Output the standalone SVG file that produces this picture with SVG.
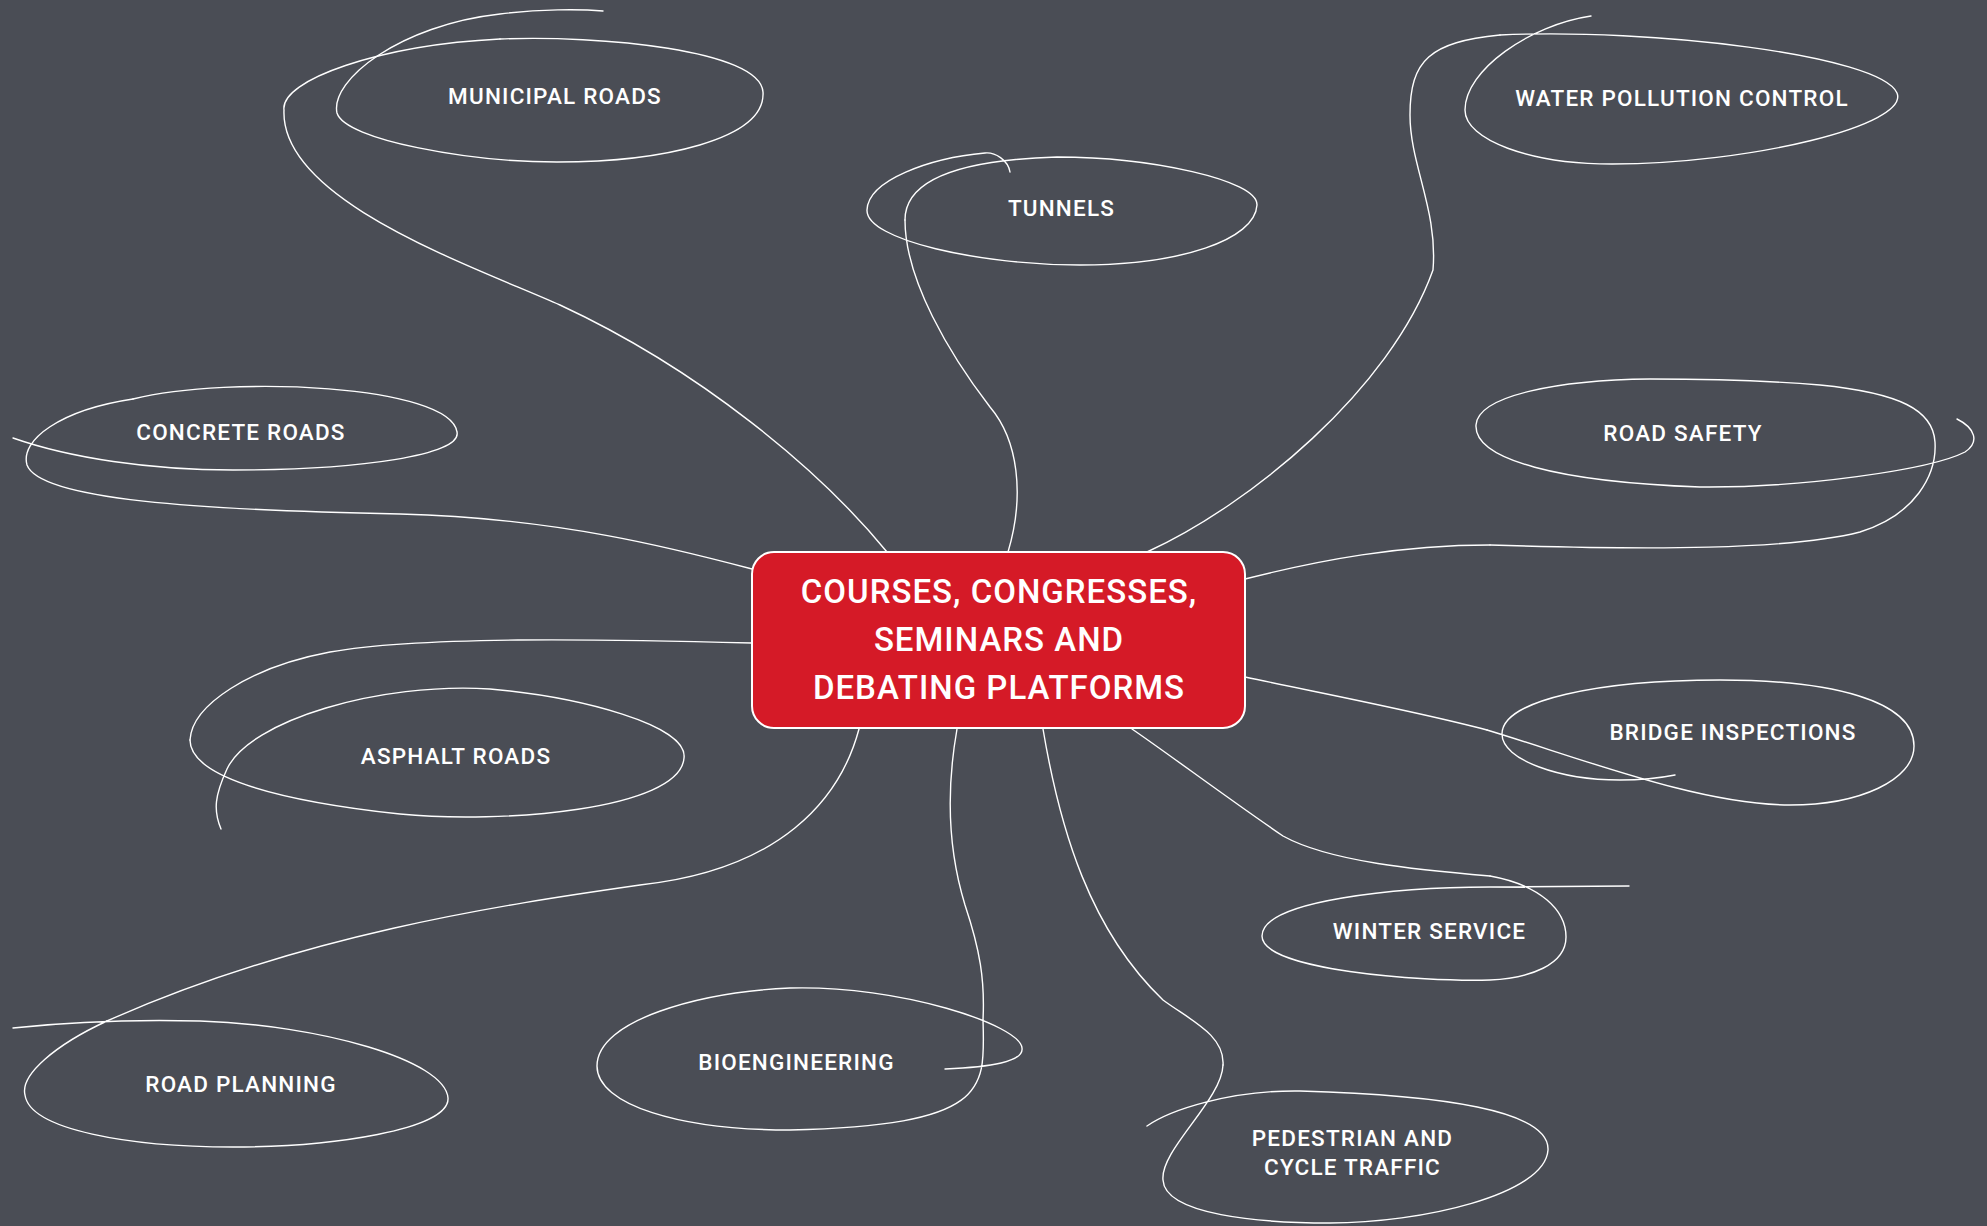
<svg xmlns="http://www.w3.org/2000/svg" width="1987" height="1226" viewBox="0 0 1987 1226">
<style>
.bg{fill:#4a4d55}
.ln{fill:none;stroke:#ffffff;stroke-width:1.4;stroke-linecap:round;stroke-linejoin:round}
.lbl{font-family:Roboto,"Liberation Sans",sans-serif;font-weight:500;font-size:22.5px;letter-spacing:1.2px;fill:#ffffff;text-anchor:middle}
.ctr{font-family:Roboto,"Liberation Sans",sans-serif;font-weight:500;font-size:33px;letter-spacing:1px;fill:#ffffff;text-anchor:middle}
.box{fill:#d51a27;stroke:#ffffff;stroke-width:2}
</style>
<rect class="bg" x="0" y="0" width="1987" height="1226"/>
<g id="connectors">
<path class="ln" d="M887,552 C820,470 700,370 560,305 C470,265 280,200 284,110 C280,80 380,45 500,39"/>
<path class="ln" d="M752,569 C680,550 560,518 400,514 C200,510 40,500 27,465 C20,440 60,410 133,399"/>
<path class="ln" d="M752,643 C600,639 420,636 330,652 C250,667 192,705 190,740"/>
<path class="ln" d="M859,729 C840,800 780,870 640,885 C500,905 300,935 107,1021"/>
<path class="ln" d="M957,729 C948,780 945,840 965,905 C980,950 985,980 983,1020"/>
<path class="ln" d="M1043,729 C1060,830 1090,930 1163,1000 C1190,1020 1225,1035 1223,1065"/>
<path class="ln" d="M1132,729 C1170,755 1230,800 1283,836 C1330,862 1420,870 1490,876"/>
<path class="ln" d="M1245,677 C1330,695 1420,712 1487,730"/>
<path class="ln" d="M1245,579 C1320,560 1400,545 1490,545"/>
<path class="ln" d="M1147,552 C1250,505 1390,390 1433,270 C1438,210 1410,165 1410,115 C1410,60 1430,42 1500,35"/>
<path class="ln" d="M1008,552 C1025,495 1018,440 990,407 C950,355 905,280 905,220"/>
</g>
<g id="node-center">
<rect class="box" x="752" y="552" width="493" height="176" rx="22" ry="22"/>
<text class="ctr" x="999" y="603">COURSES, CONGRESSES,</text>
<text class="ctr" x="999" y="651">SEMINARS AND</text>
<text class="ctr" x="999" y="699">DEBATING PLATFORMS</text>
</g>
<g id="node-municipal-roads">
<path class="ln" d="M500,39 C600,35 760,50 763,92 C766,140 660,162 557,162 C470,162 345,140 337,113 C330,80 400,25 500,14 C540,9 580,9 603,11"/>
<text class="lbl" x="555" y="103.5">MUNICIPAL ROADS</text>
</g>
<g id="node-concrete-roads">
<path class="ln" d="M133,399 C230,375 450,385 457,432 C462,455 360,470 233,470 C150,470 70,458 13,438"/>
<text class="lbl" x="241" y="440">CONCRETE ROADS</text>
</g>
<g id="node-asphalt-roads">
<path class="ln" d="M190,740 C190,775 270,800 400,814 C500,824 680,810 684,758 C688,725 580,697 490,689 C380,682 250,720 227,769 C215,795 213,810 221,829"/>
<text class="lbl" x="456" y="763.5">ASPHALT ROADS</text>
</g>
<g id="node-road-planning">
<path class="ln" d="M107,1021 C55,1045 20,1075 25,1095 C30,1130 130,1147 233,1147 C330,1147 450,1130 448,1098 C445,1060 320,1025 200,1021 C120,1019 50,1024 13,1028"/>
<text class="lbl" x="241" y="1092">ROAD PLANNING</text>
</g>
<g id="node-bioengineering">
<path class="ln" d="M983,1020 C985,1090 990,1125 790,1130 C680,1130 597,1105 597,1066 C597,1020 700,992 790,988 C900,985 1020,1025 1022,1048 C1024,1062 990,1067 945,1069"/>
<text class="lbl" x="796.5" y="1070">BIOENGINEERING</text>
</g>
<g id="node-pedestrian">
<path class="ln" d="M1223,1065 C1222,1100 1160,1150 1163,1180 C1165,1215 1260,1223 1330,1223 C1420,1223 1545,1195 1548,1150 C1550,1110 1440,1095 1300,1091 C1230,1090 1170,1110 1147,1126"/>
<text class="lbl" x="1352.5" y="1145.5">PEDESTRIAN AND</text>
<text class="lbl" x="1352.5" y="1175">CYCLE TRAFFIC</text>
</g>
<g id="node-winter-service">
<path class="ln" d="M1490,876 C1540,885 1566,910 1566,937 C1566,965 1530,978 1490,980 C1420,982 1262,970 1262,936 C1262,900 1400,887 1490,887 L1629,886"/>
<text class="lbl" x="1429.5" y="939">WINTER SERVICE</text>
</g>
<g id="node-bridge-inspections">
<path class="ln" d="M1487,730 C1580,758 1700,805 1790,805 C1860,805 1914,780 1914,746 C1914,700 1830,680 1720,680 C1600,680 1502,700 1502,734 C1502,760 1560,780 1620,780 C1640,780 1660,778 1675,775"/>
<text class="lbl" x="1733" y="740">BRIDGE INSPECTIONS</text>
</g>
<g id="node-road-safety">
<path class="ln" d="M1490,545 C1650,550 1790,550 1860,532 C1915,515 1937,475 1935,442 C1933,410 1900,393 1820,385 C1760,380 1700,379 1650,379 C1560,380 1478,395 1476,425 C1474,460 1560,482 1700,487 C1800,488 1930,470 1965,452 C1980,442 1975,428 1957,419"/>
<text class="lbl" x="1683" y="441">ROAD SAFETY</text>
</g>
<g id="node-water-pollution">
<path class="ln" d="M1500,35 C1650,28 1880,55 1897,93 C1910,125 1750,164 1612,164 C1530,164 1465,140 1465,110 C1465,70 1530,25 1591,16"/>
<text class="lbl" x="1682" y="105.5">WATER POLLUTION CONTROL</text>
</g>
<g id="node-tunnels">
<path class="ln" d="M905,220 C905,180 960,160 1057,157 C1150,157 1258,180 1257,205 C1255,240 1180,265 1080,265 C980,265 866,240 867,210 C868,180 930,158 985,153 C995,152 1008,160 1010,172"/>
<text class="lbl" x="1061.5" y="215.5">TUNNELS</text>
</g>
</svg>
